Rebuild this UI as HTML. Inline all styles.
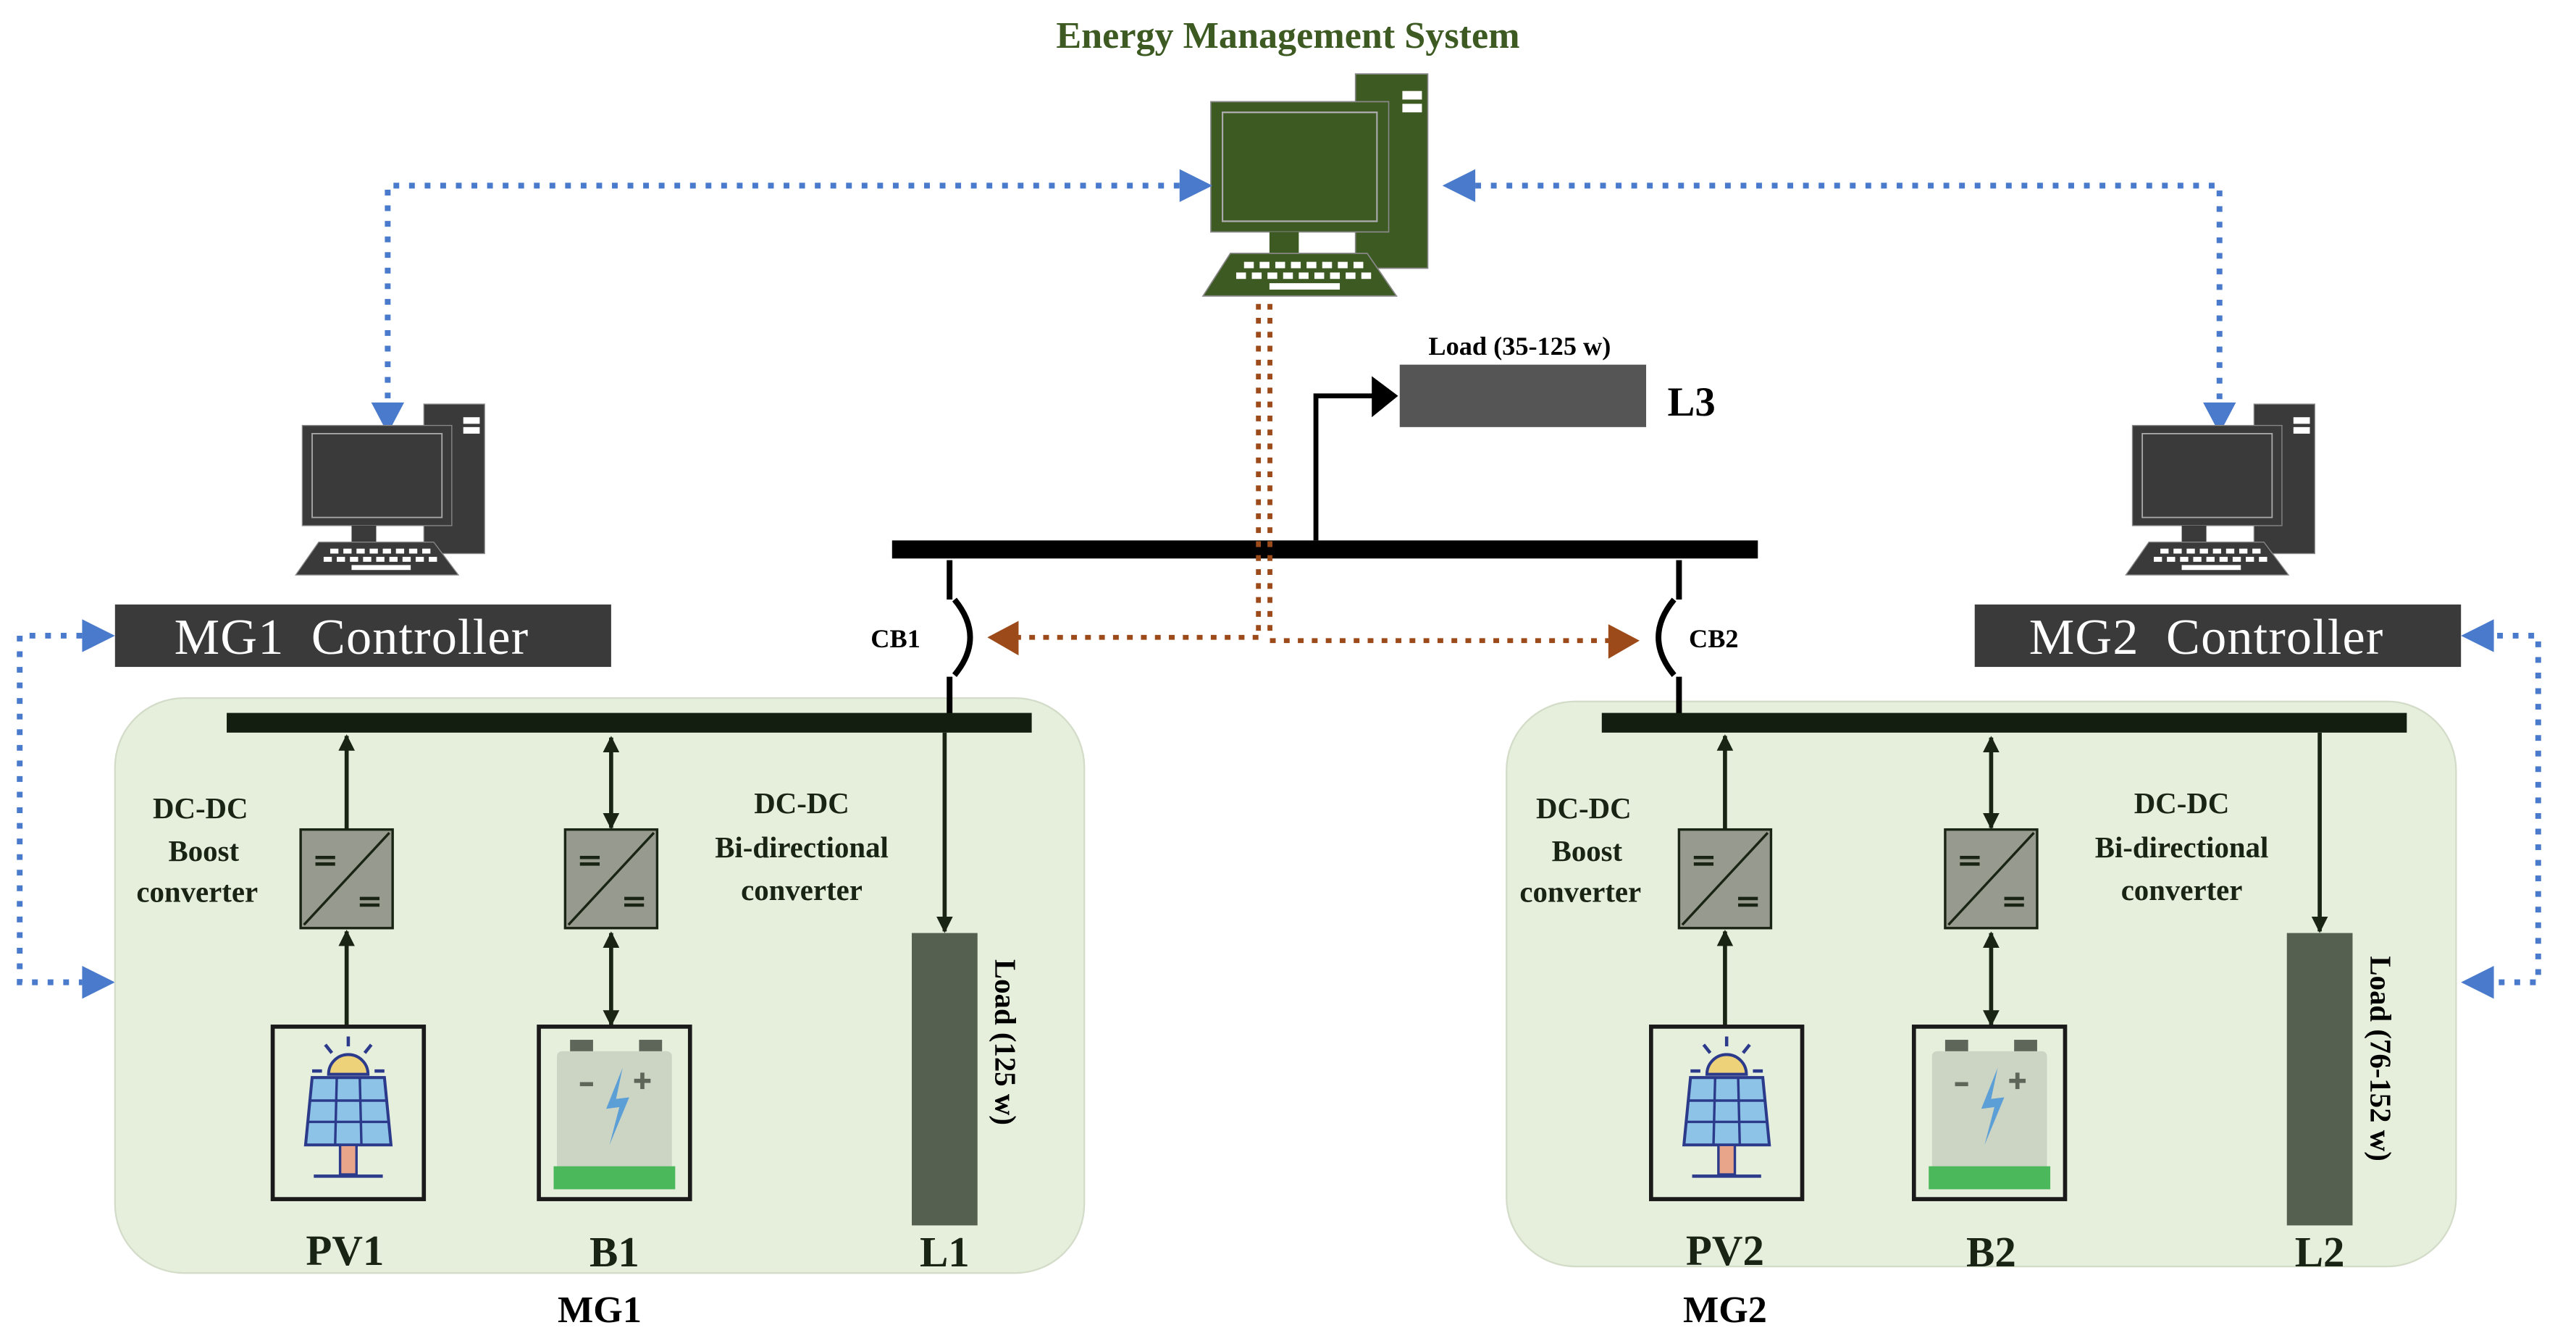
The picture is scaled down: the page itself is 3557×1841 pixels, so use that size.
<!DOCTYPE html>
<html><head><meta charset="utf-8"><style>
html,body{margin:0;padding:0;background:#fff;}
svg{display:block;}
text{font-family:"Liberation Serif",serif;}
</style></head><body>
<svg width="3557" height="1841" viewBox="0 0 1568 811.5" preserveAspectRatio="none" xmlns="http://www.w3.org/2000/svg">
<defs>
<g id="pc">
  <rect x="74" y="0" width="37" height="91" stroke="#888" stroke-width="0.6"/>
  <rect x="98" y="8" width="10" height="4" fill="#fff"/>
  <rect x="98" y="14" width="10" height="4" fill="#fff"/>
  <rect x="0" y="13" width="91" height="61" stroke="#888" stroke-width="0.6"/>
  <rect x="6" y="18" width="79" height="51" fill="none" stroke="#aaa" stroke-width="0.8"/>
  <rect x="30" y="74" width="15" height="10"/>
  <polygon points="10,84 80,84 95,104 -4,104" stroke="#888" stroke-width="0.6"/>
  <g fill="#fff">
    <rect x="17" y="88" width="5" height="3"/><rect x="25" y="88" width="5" height="3"/><rect x="33" y="88" width="5" height="3"/><rect x="41" y="88" width="5" height="3"/><rect x="49" y="88" width="5" height="3"/><rect x="57" y="88" width="5" height="3"/><rect x="65" y="88" width="5" height="3"/><rect x="73" y="88" width="5" height="3"/>
    <rect x="13" y="93" width="5" height="3"/><rect x="21" y="93" width="5" height="3"/><rect x="29" y="93" width="5" height="3"/><rect x="37" y="93" width="5" height="3"/><rect x="45" y="93" width="5" height="3"/><rect x="53" y="93" width="5" height="3"/><rect x="61" y="93" width="5" height="3"/><rect x="69" y="93" width="5" height="3"/><rect x="77" y="93" width="5" height="3"/>
    <rect x="30" y="98" width="36" height="3"/>
  </g>
</g>
<g id="conv">
  <rect x="0" y="0" width="56" height="60" fill="#979b8f" stroke="#1a2415" stroke-width="1.5"/>
  <line x1="2" y1="58" x2="54" y2="2" stroke="#1a2415" stroke-width="1.5"/>
  <line x1="9" y1="17" x2="21" y2="17" stroke="#1a2415" stroke-width="2"/>
  <line x1="9" y1="21" x2="21" y2="21" stroke="#1a2415" stroke-width="2"/>
  <line x1="36" y1="42" x2="48" y2="42" stroke="#1a2415" stroke-width="2"/>
  <line x1="36" y1="46" x2="48" y2="46" stroke="#1a2415" stroke-width="2"/>
</g>
<g id="pv">
  <rect x="0" y="0" width="92" height="105" fill="none" stroke="#1a1a1a" stroke-width="2.5"/>
  <g stroke="#2b3a8a" stroke-width="2" fill="none">
    <line x1="46" y1="6" x2="46" y2="12"/><line x1="32" y1="11" x2="36" y2="16"/><line x1="60" y1="11" x2="56" y2="16"/>
    <line x1="24" y1="27" x2="30" y2="27"/><line x1="62" y1="27" x2="68" y2="27"/>
  </g>
  <path d="M34,29 A12,12 0 0 1 58,29 Z" fill="#edd27a" stroke="#2b3a8a" stroke-width="1.8"/>
  <polygon points="24,31 68,31 72,72 20,72" fill="#8cc3e6" stroke="#2b3a8a" stroke-width="1.8"/>
  <g stroke="#2b3a8a" stroke-width="1.5">
    <line x1="22" y1="45" x2="70" y2="45"/><line x1="21" y1="58" x2="71" y2="58"/>
    <line x1="39" y1="31" x2="38" y2="72"/><line x1="53" y1="31" x2="54" y2="72"/>
  </g>
  <rect x="41" y="72" width="10" height="18" fill="#e8a58a" stroke="#2b3a8a" stroke-width="1.5"/>
  <line x1="25" y1="91" x2="67" y2="91" stroke="#2b3a8a" stroke-width="2"/>
</g>
<g id="bat">
  <rect x="0" y="0" width="92" height="105" fill="none" stroke="#1a1a1a" stroke-width="2.5"/>
  <rect x="19" y="8" width="14" height="7" fill="#5d6659"/>
  <rect x="61" y="8" width="14" height="7" fill="#5d6659"/>
  <rect x="11" y="15" width="70" height="84" rx="3" fill="#ccd4c4"/>
  <rect x="9" y="85" width="74" height="14" fill="#4cb85c"/>
  <line x1="25" y1="35" x2="33" y2="35" stroke="#5d6659" stroke-width="2.5"/>
  <line x1="58" y1="33" x2="68" y2="33" stroke="#5d6659" stroke-width="2.5"/>
  <line x1="63" y1="28" x2="63" y2="38" stroke="#5d6659" stroke-width="2.5"/>
  <polygon points="51,25 41,50 49,49 43,72 55,43 47,44" fill="#5b9fd6"/>
</g>
<marker id="ab" markerWidth="10" markerHeight="10" refX="9" refY="5" orient="auto" markerUnits="userSpaceOnUse"><path d="M0,0 L10,5 L0,10 Z" fill="#1a2415"/></marker>
<marker id="as" markerWidth="10" markerHeight="10" refX="1" refY="5" orient="auto" markerUnits="userSpaceOnUse"><path d="M10,0 L0,5 L10,10 Z" fill="#1a2415"/></marker>
</defs>

<text x="784" y="29" font-size="23" font-weight="bold" fill="#3d5a23" text-anchor="middle">Energy Management System</text>

<g transform="translate(737,45) scale(1.19,1.3)" fill="#3d5a23"><use href="#pc"/></g>

<g stroke="#4a7acb" stroke-width="3.5" stroke-dasharray="3.5,6" fill="none">
  <polyline points="718,113 236,113 236,245"/>
  <polyline points="898,113 1351,113 1351,245"/>
  <polyline points="50,387 12,387 12,598 50,598"/>
  <polyline points="1520,387 1545,387 1545,598 1520,598"/>
</g>
<g fill="#4a7acb">
  <polygon points="718,103 718,123 738,113"/>
  <polygon points="898,103 898,123 878,113"/>
  <polygon points="226,245 246,245 236,264"/>
  <polygon points="1341,245 1361,245 1351,264"/>
  <polygon points="50,377 50,397 70,387"/>
  <polygon points="50,588 50,608 70,598"/>
  <polygon points="1518,377 1518,397 1498,387"/>
  <polygon points="1518,588 1518,608 1498,598"/>
</g>

<g transform="translate(184,246)" fill="#3a3a3a"><use href="#pc"/></g>
<g transform="translate(1298,246)" fill="#3a3a3a"><use href="#pc"/></g>

<rect x="70" y="368" width="302" height="38" fill="#3a3a3a"/>
<text x="214" y="398" font-size="31" fill="#fff" text-anchor="middle" letter-spacing="0.5">MG1&#160;&#160;Controller</text>
<rect x="1202" y="368" width="296" height="38" fill="#3a3a3a"/>
<text x="1343" y="398" font-size="31" fill="#fff" text-anchor="middle" letter-spacing="0.5">MG2&#160;&#160;Controller</text>

<rect x="70" y="425" width="590" height="350" rx="42" fill="#e6eedc" stroke="#d3dcc8" stroke-width="1"/>
<rect x="917" y="427" width="578" height="344" rx="42" fill="#e6eedc" stroke="#d3dcc8" stroke-width="1"/>

<rect x="543" y="329" width="527" height="11" fill="#000"/>
<polyline points="801,329 801,241 838,241" fill="none" stroke="#000" stroke-width="3"/>
<polygon points="835,229 835,254 851,241" fill="#000"/>
<rect x="852" y="222" width="150" height="38" fill="#555"/>
<text x="925" y="216" font-size="16" font-weight="bold" text-anchor="middle">Load (35-125 w)</text>
<text x="1015" y="253" font-size="25" font-weight="bold">L3</text>

<g stroke="#000" stroke-width="3.5" fill="none">
  <line x1="578" y1="341" x2="578" y2="365"/>
  <line x1="578" y1="412" x2="578" y2="436"/>
  <path d="M581,365 Q600,388 581,411"/>
  <line x1="1022" y1="341" x2="1022" y2="365"/>
  <line x1="1022" y1="412" x2="1022" y2="436"/>
  <path d="M1019,365 Q1000,388 1019,411"/>
</g>
<text x="530" y="394" font-size="16" font-weight="bold">CB1</text>
<text x="1028" y="394" font-size="16" font-weight="bold">CB2</text>

<g stroke="#9c4a1a" stroke-width="3" stroke-dasharray="3.5,5" fill="none">
  <line x1="766" y1="185" x2="766" y2="387"/>
  <line x1="773" y1="185" x2="773" y2="387"/>
  <line x1="766" y1="388" x2="618" y2="388"/>
  <line x1="773" y1="390" x2="980" y2="390"/>
</g>
<polygon points="620,378 620,399 601,388" fill="#9c4a1a"/>
<polygon points="979,380 979,401 998,390" fill="#9c4a1a"/>

<rect x="138" y="434" width="490" height="12" fill="#141e10"/>
<rect x="975" y="434" width="490" height="12" fill="#141e10"/>

<g stroke="#1a2415" stroke-width="2.5" fill="none">
  <line x1="211" y1="505" x2="211" y2="448" marker-end="url(#ab)"/>
  <line x1="211" y1="624" x2="211" y2="567" marker-end="url(#ab)"/>
  <line x1="372" y1="449" x2="372" y2="504" marker-start="url(#as)" marker-end="url(#ab)"/>
  <line x1="372" y1="568" x2="372" y2="624" marker-start="url(#as)" marker-end="url(#ab)"/>
  <line x1="575" y1="446" x2="575" y2="567" marker-end="url(#ab)"/>
  <line x1="1050" y1="505" x2="1050" y2="448" marker-end="url(#ab)"/>
  <line x1="1050" y1="624" x2="1050" y2="567" marker-end="url(#ab)"/>
  <line x1="1212" y1="449" x2="1212" y2="504" marker-start="url(#as)" marker-end="url(#ab)"/>
  <line x1="1212" y1="568" x2="1212" y2="624" marker-start="url(#as)" marker-end="url(#ab)"/>
  <line x1="1412" y1="446" x2="1412" y2="567" marker-end="url(#ab)"/>
</g>
<use href="#conv" x="183" y="505"/>
<use href="#conv" x="344" y="505"/>
<use href="#conv" x="1022" y="505"/>
<use href="#conv" x="1184" y="505"/>
<use href="#pv" x="166" y="625"/>
<use href="#bat" x="328" y="625"/>
<use href="#pv" x="1005" y="625"/>
<use href="#bat" x="1165" y="625"/>

<g font-size="18" font-weight="bold" text-anchor="middle" fill="#1a2415">
  <text x="122" y="498">DC-DC</text><text x="124" y="524">Boost</text><text x="120" y="549">converter</text>
  <text x="488" y="495">DC-DC</text><text x="488" y="522">Bi-directional</text><text x="488" y="548">converter</text>
  <text x="964" y="498">DC-DC</text><text x="966" y="524">Boost</text><text x="962" y="549">converter</text>
  <text x="1328" y="495">DC-DC</text><text x="1328" y="522">Bi-directional</text><text x="1328" y="548">converter</text>
</g>

<rect x="555" y="568" width="40" height="178" fill="#566050"/>
<rect x="1392" y="568" width="40" height="178" fill="#566050"/>
<text transform="translate(606,584) rotate(90)" font-size="18" font-weight="bold">Load (125 w)</text>
<text transform="translate(1443,582) rotate(90)" font-size="18" font-weight="bold">Load (76-152 w)</text>

<g font-size="26" font-weight="bold" text-anchor="middle" fill="#1a2415">
  <text x="210" y="770">PV1</text><text x="374" y="771">B1</text><text x="575" y="771">L1</text>
  <text x="1050" y="770">PV2</text><text x="1212" y="771">B2</text><text x="1412" y="771">L2</text>
</g>
<text x="365" y="805" font-size="23" font-weight="bold" text-anchor="middle">MG1</text>
<text x="1050" y="805" font-size="23" font-weight="bold" text-anchor="middle">MG2</text>
</svg>
</body></html>
